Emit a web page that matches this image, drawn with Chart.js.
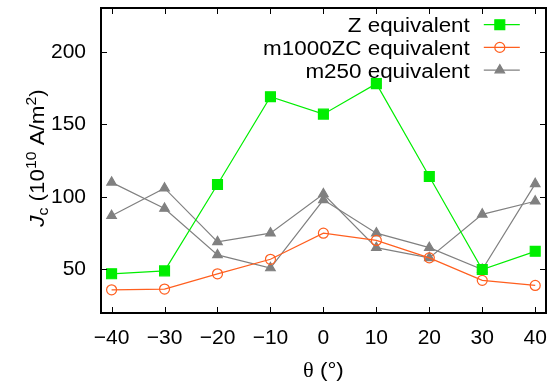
<!DOCTYPE html>
<html>
<head>
<meta charset="utf-8">
<script src="https://cdn.jsdelivr.net/npm/chart.js@4"></script>
<style>
  html, body { margin: 0; padding: 0; background: #fff; overflow: hidden; }
  #wrap { width: 554px; height: 385px; }
</style>
</head>
<body>
<div id="wrap"><canvas id="jcChart"></canvas></div>
<script>
const angles = [-40, -30, -20, -10, 0, 10, 20, 30, 40];
const zEquiv = [47, 49, 108.5, 169, 157, 178, 114, 50, 62.5];
const m1000zcEquiv = [36, 36.5, 47, 57, 75, 70, 58, 42.5, 39];
// m250 was measured twice, both runs drawn with the same style
const m250RunA = [110, 92, 60, 51, 98, 75, 65, 50, 109];
const m250RunB = [87, 106, 69, 75, 102, 65, 58, 88, 97];
const xTicks = [-40, -30, -20, -10, 0, 10, 20, 30, 40];
const yTicks = [50, 100, 150, 200];
const seriesNames = ["Z equivalent", "m1000ZC equivalent", "m250 equivalent"];

const FONT = "'Liberation Sans', Arial, Helvetica, sans-serif";
const GREEN = "#00ee00", ORANGE = "#ff5f1f", GRAY = "#808080";
const STRETCH = 1.12;

const toXY = ys => angles.map((a, i) => ({ x: a, y: ys[i] }));

const styles = [
  { color: GREEN, pointStyle: "rect", pointRadius: 7, fill: true },
  { color: ORANGE, pointStyle: "circle", pointRadius: 5, fill: false },
  { color: GRAY, pointStyle: "triangle", pointRadius: 5.5, fill: true },
];

function makeSet(label, ys, st) {
  return {
    label: label,
    data: toXY(ys),
    borderColor: st.color,
    borderWidth: 1.2,
    pointStyle: st.pointStyle,
    pointRadius: st.pointRadius,
    pointBorderColor: st.color,
    pointBackgroundColor: st.fill ? st.color : "rgba(0,0,0,0)",
    pointBorderWidth: 1.2,
    tension: 0,
    xAxisID: "x",
    yAxisID: "y",
  };
}

function drawMarker(ctx, st, x, y) {
  ctx.save();
  ctx.strokeStyle = st.color;
  ctx.fillStyle = st.color;
  ctx.lineWidth = 1.2;
  ctx.beginPath();
  if (st.pointStyle === "rect") {
    const s = st.pointRadius * Math.SQRT1_2;
    ctx.rect(x - s, y - s, 2 * s, 2 * s);
  } else if (st.pointStyle === "circle") {
    ctx.arc(x, y, st.pointRadius, 0, Math.PI * 2);
  } else {
    const r = st.pointRadius;
    const k = Math.sin(Math.PI / 3);
    ctx.moveTo(x, y - r);
    ctx.lineTo(x + r * k, y + r / 2);
    ctx.lineTo(x - r * k, y + r / 2);
    ctx.closePath();
  }
  if (st.fill) ctx.fill();
  ctx.stroke();
  ctx.restore();
}

// draws text pieces one after another, centred on the origin
function drawRich(ctx, parts) {
  let total = 0;
  parts.forEach(p => { ctx.font = p.font; p.w = ctx.measureText(p.text).width; total += p.w; });
  let x = -total / 2;
  parts.forEach(p => {
    ctx.font = p.font;
    ctx.fillText(p.text, x, p.dy || 0);
    x += p.w;
  });
}

const framePlugin = {
  id: "gnuFrame",
  afterDraw(chart) {
    const ctx = chart.ctx;
    const a = chart.chartArea;
    const sx = chart.scales.x, sy = chart.scales.y;
    const L = Math.round(a.left), R = Math.round(a.right);
    const T = Math.round(a.top), B = Math.round(a.bottom);
    ctx.save();
    ctx.globalAlpha = 1;
    ctx.globalCompositeOperation = "source-over";
    ctx.fillStyle = "#000";
    // box, as solid bars so every side is crisp
    ctx.fillRect(L - 1, T - 1, R - L + 2, 2);
    ctx.fillRect(L - 1, B - 1, R - L + 2, 2);
    ctx.fillRect(L - 1, T - 1, 2, B - T + 2);
    ctx.fillRect(R - 1, T - 1, 2, B - T + 2);

    // ticks pointing inwards, mirrored on all four sides
    const t = 6;
    xTicks.forEach(v => {
      const px = Math.round(sx.getPixelForValue(v));
      ctx.fillRect(px, B - t, 1, t);
      ctx.fillRect(px, T, 1, t);
    });
    yTicks.forEach(v => {
      const py = Math.round(sy.getPixelForValue(v));
      ctx.fillRect(L, py, t, 1);
      ctx.fillRect(R - t, py, t, 1);
    });

    // legend, inside the top right corner
    ctx.textBaseline = "alphabetic";
    ctx.textAlign = "right";
    seriesNames.forEach((name, i) => {
      const y = a.top + 16.5 + i * 22.7;
      const lineEnd = a.right - 26;
      const lineStart = lineEnd - 36;
      ctx.save();
      ctx.translate(lineStart - 14, y + 7.5);
      ctx.scale(STRETCH, 1);
      ctx.font = "20px " + FONT;
      ctx.fillStyle = "#000";
      ctx.fillText(name, 0, 0);
      ctx.restore();
      ctx.save();
      ctx.strokeStyle = styles[i].color;
      ctx.lineWidth = 1.2;
      ctx.beginPath();
      ctx.moveTo(lineStart, y); ctx.lineTo(lineEnd, y);
      ctx.stroke();
      ctx.restore();
      drawMarker(ctx, styles[i], (lineStart + lineEnd) / 2 - 2, y);
    });

    // axis titles
    ctx.textAlign = "left";
    ctx.fillStyle = "#000";
    ctx.save();
    ctx.translate(44, 158);
    ctx.rotate(-Math.PI / 2);
    ctx.scale(STRETCH, 1);
    drawRich(ctx, [
      { text: "J", font: "italic 20px " + FONT },
      { text: "c", font: "14px " + FONT, dy: 4 },
      { text: " (10", font: "20px " + FONT },
      { text: "10", font: "14px " + FONT, dy: -8.5 },
      { text: " A/m", font: "20px " + FONT },
      { text: "2", font: "14px " + FONT, dy: -8.5 },
      { text: ")", font: "20px " + FONT },
    ]);
    ctx.restore();

    ctx.save();
    ctx.translate((a.left + a.right) / 2, 377);
    ctx.scale(STRETCH, 1);
    drawRich(ctx, [
      { text: "\u03b8", font: "20px 'Liberation Serif', serif" },
      { text: " (\u00b0)", font: "20px " + FONT },
    ]);
    ctx.restore();
    ctx.restore();
  }
};

function noEdgePadding(s) {
  s.paddingLeft = 0; s.paddingRight = 0; s.paddingTop = 0; s.paddingBottom = 0;
}

const frameBorder = { display: true, color: "#000", width: 1.5 };

new Chart(document.getElementById("jcChart"), {
  type: "line",
  data: {
    datasets: [
      makeSet(seriesNames[0], zEquiv, styles[0]),
      makeSet(seriesNames[1], m1000zcEquiv, styles[1]),
      makeSet(seriesNames[2], m250RunA, styles[2]),
      makeSet(seriesNames[2] + " (2)", m250RunB, styles[2]),
    ]
  },
  options: {
    responsive: true,
    maintainAspectRatio: false,
    animation: false,
    layout: { padding: { top: 8, right: 5, left: 0, bottom: 0 } },
    plugins: { legend: { display: false }, tooltip: { enabled: false } },
    scales: {
      x: {
        type: "linear",
        position: "bottom",
        min: -42,
        max: 42,
        afterBuildTicks: s => { s.ticks = xTicks.map(v => ({ value: v })); },
        afterFit: s => { s.height = 72; noEdgePadding(s); },
        grid: { display: false, drawTicks: false },
        border: frameBorder,
        ticks: {
          color: "#000",
          font: { size: 21, family: FONT },
          padding: 13,
          maxRotation: 0,
          autoSkip: false,
          callback: v => (v < 0 ? "\u2212" + Math.abs(v) : String(v)),
        },
      },
      xTop: {
        type: "linear",
        position: "top",
        min: -42,
        max: 42,
        afterFit: s => { s.height = 0; noEdgePadding(s); },
        grid: { display: false, drawTicks: false },
        border: frameBorder,
        ticks: { display: false },
      },
      y: {
        position: "left",
        min: 20,
        max: 230,
        afterBuildTicks: s => { s.ticks = yTicks.map(v => ({ value: v })); },
        afterFit: s => { s.width = 101; noEdgePadding(s); },
        grid: { display: false, drawTicks: false },
        border: frameBorder,
        ticks: {
          color: "#000",
          font: { size: 21, family: FONT },
          padding: 15,
        },
      },
      yRight: {
        position: "right",
        min: 20,
        max: 230,
        afterFit: s => { s.width = 0; noEdgePadding(s); },
        grid: { display: false, drawTicks: false },
        border: frameBorder,
        ticks: { display: false },
      },
    },
  },
  plugins: [framePlugin],
});
</script>
</body>
</html>
